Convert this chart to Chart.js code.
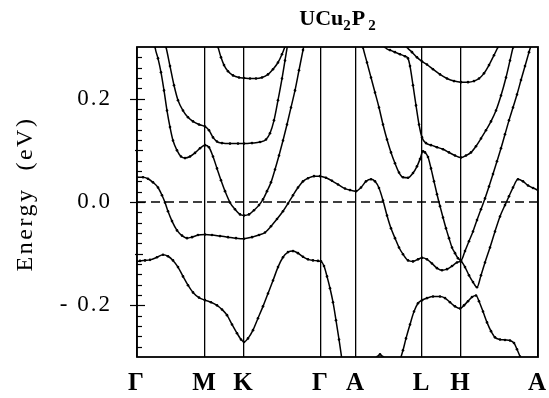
<!DOCTYPE html>
<html><head><meta charset="utf-8">
<script src="https://cdn.jsdelivr.net/npm/chart.js@4/dist/chart.umd.min.js"></script>
<style>html,body{margin:0;padding:0;background:#fff;}canvas{display:block;}</style>
</head><body>
<canvas id="c" width="549" height="398"></canvas>
<script>
// High-symmetry points (path coordinate) and labels
const kPoints = [0, 68, 107, 184, 219, 285, 324, 401];
const kLabels = ['Γ', 'M', 'K', 'Γ', 'A', 'L', 'H', 'A'];
const yTickValues = [-0.2, 0, 0.2];
const yTickLabels = ['- 0.2', '0.0', '0.2'];
const titleParts = ['UCu', '2', 'P', '2'];
const yTitle = 'Energy  (eV)';
const fermiK = [0, 401];
const fermiE = [0, 0];

// Bands (k along path, energy in eV)
const band1K = [0,3,8,13,20,26,31,36,41,46,51,56,62,68,74,80,85,90,95,100,104,107,111,116,121,126,131,136,141,146,151,156,161,166,171,176,181,184,187,190,193,196,199,202,205];
const band1E = [-0.115,-0.114,-0.113,-0.112,-0.107,-0.102,-0.105,-0.113,-0.126,-0.144,-0.161,-0.175,-0.185,-0.190,-0.194,-0.200,-0.208,-0.219,-0.237,-0.254,-0.266,-0.271,-0.264,-0.248,-0.225,-0.202,-0.177,-0.152,-0.126,-0.107,-0.097,-0.095,-0.099,-0.106,-0.111,-0.113,-0.114,-0.115,-0.124,-0.144,-0.167,-0.194,-0.229,-0.266,-0.306];

const band2K = [0,6,11,16,21,25,28,31,35,40,45,50,55,61,68,75,83,91,99,107,115,122,128,134,140,146,151,156,161,166,171,177,183,189,195,201,208,213,219,224,229,234,238,242,246,250,254,258,262,266,271,276,281,285,290,295,300,305,310,315,320,324,328,332,336,340,344,348,353,358,363,368,372,376,381,386,391,396,401];
const band2E = [0.048,0.048,0.045,0.038,0.028,0.013,-0.001,-0.018,-0.037,-0.055,-0.065,-0.070,-0.068,-0.064,-0.063,-0.064,-0.066,-0.068,-0.070,-0.071,-0.068,-0.064,-0.059,-0.047,-0.033,-0.018,-0.003,0.013,0.028,0.040,0.046,0.050,0.050,0.047,0.041,0.034,0.026,0.023,0.021,0.028,0.040,0.044,0.040,0.027,0.003,-0.026,-0.051,-0.070,-0.088,-0.101,-0.113,-0.115,-0.111,-0.108,-0.111,-0.119,-0.128,-0.132,-0.130,-0.124,-0.117,-0.115,-0.126,-0.142,-0.155,-0.165,-0.142,-0.117,-0.088,-0.057,-0.028,-0.006,0.011,0.028,0.044,0.040,0.032,0.027,0.023];

const band3K = [17,18,21,24,27,30,33,36,40,44,48,53,58,63,68,72,76,80,84,88,93,98,103,107,112,117,122,126,130,134,138,142,146,150,154,158,162,166,168];
const band3E = [0.317,0.300,0.278,0.251,0.216,0.177,0.145,0.119,0.100,0.088,0.085,0.088,0.095,0.104,0.110,0.106,0.088,0.065,0.042,0.021,-0.001,-0.014,-0.024,-0.026,-0.024,-0.016,-0.006,0.005,0.021,0.038,0.063,0.090,0.119,0.150,0.183,0.216,0.255,0.294,0.313];

const band4K = [27,29,33,37,41,46,51,56,62,68,72,76,80,85,93,101,107,115,123,129,133,137,141,145,148,151];
const band4E = [0.313,0.300,0.263,0.226,0.197,0.177,0.164,0.156,0.150,0.146,0.139,0.125,0.117,0.114,0.113,0.113,0.113,0.114,0.116,0.121,0.133,0.158,0.197,0.239,0.274,0.309];

const band5K = [79,81,84,87,91,96,102,107,113,119,125,131,136,141,145,148,150];
const band5E = [0.313,0.300,0.280,0.265,0.253,0.245,0.241,0.240,0.239,0.239,0.241,0.247,0.257,0.270,0.286,0.301,0.313];

const band6K = [224,226,230,234,238,242,246,250,254,258,262,266,271,276,280,283,286,288,291,294,297,300,303,306,309,312,315,318,321,324,328,332,336,340,344,348,352,356,360,364,368,372,376,380,384,388,392,395];
const band6E = [0.317,0.299,0.270,0.241,0.212,0.183,0.150,0.121,0.096,0.075,0.057,0.048,0.047,0.056,0.069,0.083,0.098,0.096,0.087,0.065,0.040,0.015,-0.008,-0.030,-0.051,-0.070,-0.088,-0.099,-0.109,-0.113,-0.095,-0.076,-0.057,-0.035,-0.014,0.007,0.030,0.054,0.079,0.104,0.131,0.158,0.183,0.208,0.236,0.263,0.290,0.309];

const band7K = [246,248,253,258,263,268,271,273,276,279,282,285,289,294,300,306,312,318,324,329,334,339,344,349,354,359,364,369,373,376,378];
const band7E = [0.313,0.300,0.294,0.290,0.286,0.282,0.278,0.263,0.226,0.187,0.150,0.125,0.114,0.110,0.106,0.102,0.096,0.090,0.086,0.090,0.096,0.108,0.123,0.139,0.156,0.177,0.206,0.241,0.274,0.299,0.313];

const band8K = [267,270,275,280,285,290,296,303,310,317,324,331,337,342,347,352,357,361,364];
const band8E = [0.313,0.300,0.290,0.280,0.272,0.266,0.257,0.247,0.239,0.234,0.232,0.232,0.234,0.239,0.249,0.265,0.284,0.300,0.313];

const band9K = [263,266,269,273,277,281,285,290,296,303,308,313,318,323,327,331,335,339,342,346,350,354,358,363,368,373,377,380,383,385];
const band9E = [-0.306,-0.287,-0.264,-0.237,-0.212,-0.196,-0.190,-0.186,-0.183,-0.183,-0.186,-0.194,-0.202,-0.206,-0.200,-0.192,-0.184,-0.181,-0.192,-0.212,-0.233,-0.250,-0.262,-0.266,-0.267,-0.268,-0.273,-0.285,-0.299,-0.308];

const band10K = [237,240,243,246,249];
const band10E = [-0.306,-0.300,-0.295,-0.300,-0.306];

const bands = [
  [band1K, band1E], [band2K, band2E], [band3K, band3E], [band4K, band4E], [band5K, band5E],
  [band6K, band6E], [band7K, band7E], [band8K, band8E], [band9K, band9E], [band10K, band10E]
];

const SERIF = '"Liberation Serif", "Times New Roman", serif';

const datasets = bands.map(([ks, es]) => ({
  data: ks.map((k, i) => ({x: k, y: es[i]})),
  borderColor: '#000', borderWidth: 1.5,
  pointRadius: 1.3, pointBackgroundColor: '#000', pointBorderWidth: 0,
  cubicInterpolationMode: 'monotone', fill: false
}));
datasets.push({
  data: fermiK.map((k, i) => ({x: k, y: fermiE[i]})),
  borderColor: '#000', borderWidth: 1.3, borderDash: [9, 5],
  pointRadius: 0, fill: false
});

const decor = {
  id: 'decor',
  beforeDraw(chart) {
    chart.ctx.letterSpacing = '2px';
  },
  afterDraw(chart) {
    const {ctx, chartArea: a, scales: {y}} = chart;
    ctx.save();
    ctx.letterSpacing = '0px';
    ctx.strokeStyle = '#000';
    // y ticks (inside)
    ctx.lineWidth = 1.2;
    for (let i = -14; i <= 14; i++) {
      const py = Math.round(y.getPixelForValue(i * 0.02)) + 0.5;
      let x0 = a.left, x1 = a.left + 5;
      if (i % 10 === 0) { x0 = a.left - 7; x1 = a.left + 8; }
      else if (i % 5 === 0) { x0 = a.left - 2; x1 = a.left + 6; }
      ctx.beginPath(); ctx.moveTo(x0, py); ctx.lineTo(x1, py); ctx.stroke();
    }
    // frame
    ctx.lineWidth = 1.8;
    ctx.strokeRect(a.left, a.top, a.right - a.left, a.bottom - a.top);
    // title with subscripts
    ctx.fillStyle = '#000';
    ctx.textBaseline = 'alphabetic';
    const big = 'bold 22px ' + SERIF, small = 'bold 15px ' + SERIF;
    const fonts = [big, small, big, small];
    const gaps = [0, 0, 1, 3];
    let total = 0;
    const widths = titleParts.map((t, i) => { ctx.font = fonts[i]; const w = ctx.measureText(t).width; total += w + gaps[i]; return w; });
    let x = (a.left + a.right) / 2 - total / 2;
    const base = 25;
    titleParts.forEach((t, i) => {
      ctx.font = fonts[i];
      x += gaps[i];
      ctx.fillText(t, x, base + (i % 2 === 1 ? 5 : 0));
      x += widths[i];
    });
    // y title
    ctx.translate(26, (a.top + a.bottom) / 2 - 8);
    ctx.rotate(-Math.PI / 2);
    ctx.font = '24px ' + SERIF;
    ctx.letterSpacing = '2.5px';
    ctx.textAlign = 'center';
    ctx.textBaseline = 'middle';
    ctx.fillText(yTitle, 0, 0);
    ctx.restore();
  }
};

new Chart(document.getElementById('c'), {
  type: 'line',
  data: {datasets},
  options: {
    responsive: false, animation: false, devicePixelRatio: 1,
    layout: {padding: {top: 47, right: 11, left: 0, bottom: 0}},
    plugins: {legend: {display: false}, tooltip: {enabled: false}, title: {display: false}},
    scales: {
      x: {
        type: 'linear', min: 0, max: 401,
        afterFit: s => { s.height = 41; s.paddingLeft = 0; s.paddingRight = 0; },
        afterBuildTicks: s => { s.ticks = kPoints.map(v => ({value: v})); },
        ticks: {
          autoSkip: false, maxRotation: 0, padding: 12, color: '#000',
          font: {family: SERIF, size: 25, weight: 'bold'},
          callback: (v, i) => kLabels[i]
        },
        grid: {display: true, color: '#000', lineWidth: 1.3, drawTicks: false},
        border: {display: false}
      },
      y: {
        type: 'linear', min: -0.3, max: 0.3,
        afterFit: s => { s.width = 137; s.paddingTop = 0; s.paddingBottom = 0; },
        afterBuildTicks: s => { s.ticks = yTickValues.map(v => ({value: v})); },
        ticks: {
          padding: 25, color: '#000',
          font: {family: SERIF, size: 23},
          callback: (v, i) => yTickLabels[i]
        },
        grid: {display: false, drawTicks: false},
        border: {display: false}
      }
    }
  },
  plugins: [decor]
});
</script>
</body></html>
